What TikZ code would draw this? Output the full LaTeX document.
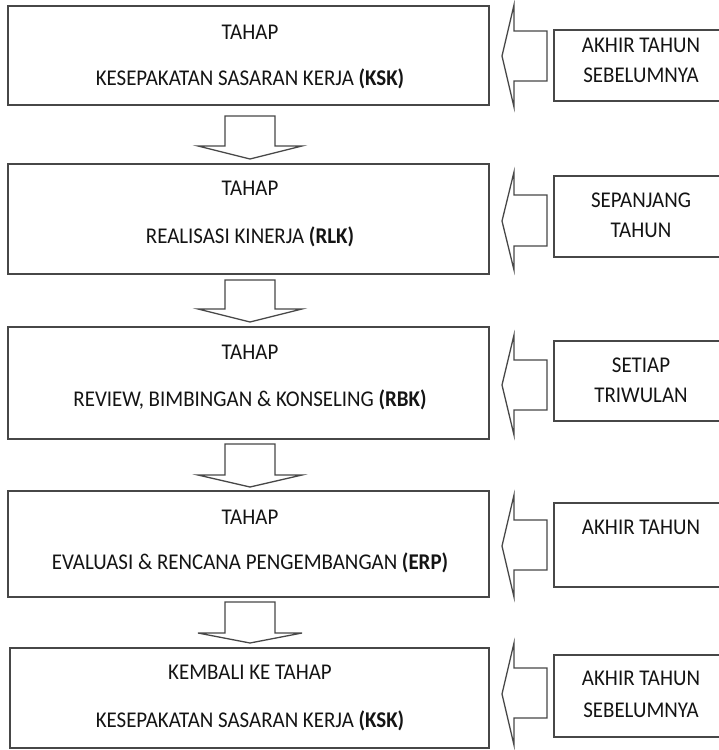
\documentclass[tikz,border=0pt]{standalone}
\usepackage{fontspec}
\setmainfont[FakeStretch=0.93]{Carlito}
\begin{document}
\begin{tikzpicture}[x=1pt,y=-1pt,
  box/.style={draw=black!72, line width=1.3pt},
  arrowshape/.style={draw=black!72, line width=1.3pt, fill=white},
  txt/.style={font=\fontsize{22.5}{26}\selectfont, text=black!92, inner sep=0pt, anchor=base}]
\useasboundingbox (0,0) rectangle (719,750);
\begin{scope}
\clip (0,0) rectangle (719,750);
% main boxes
\draw[box] (8,6) rectangle (489,105);
\draw[box] (8,164) rectangle (489,274);
\draw[box] (8,327) rectangle (489,439);
\draw[box] (8,491) rectangle (489,597);
\draw[box] (10,648) rectangle (489,748);
% right boxes
\draw[box] (554,30) rectangle (730,101);
\draw[box] (554,176) rectangle (730,257);
\draw[box] (554,341) rectangle (730,421);
\draw[box] (554,503) rectangle (730,587);
\draw[box] (554,655) rectangle (730,737);
% left arrows
\foreach \ht/\hb/\st/\sb in {5/107/31/81, 172/270/195/246, 335/435/360/410, 495/597/520/570, 643/745/668/718}{
  \draw[arrowshape] (547,\st) -- (514,\st) -- (514,\ht) -- (502,{(\ht+\hb)/2}) -- (514,\hb) -- (514,\sb) -- (547,\sb) -- cycle;
}
% down arrows
\foreach \a/\b/\c in {116/146/159, 280/309/322, 444/475/487, 602/633/643}{
  \draw[arrowshape] (225,\a) -- (275,\a) -- (275,\b) -- (302,\b) -- (250,\c) -- (198,\b) -- (225,\b) -- cycle;
}
\end{scope}
% texts main (baseline = visual centre + 7)
\node[txt] (t1a) at (250,39) {TAHAP};
\node[txt] (t1b) at (250,85) {KESEPAKATAN SASARAN KERJA \textbf{(KSK)}};
\node[txt] (t2a) at (250,195) {TAHAP};
\node[txt] (t2b) at (250,243) {REALISASI KINERJA \textbf{(RLK)}};
\node[txt] (t3a) at (250,359) {TAHAP};
\node[txt] (t3b) at (250,406) {REVIEW, BIMBINGAN \& KONSELING \textbf{(RBK)}};
\node[txt] (t4a) at (250,524) {TAHAP};
\node[txt] (t4b) at (250,569) {EVALUASI \& RENCANA PENGEMBANGAN \textbf{(ERP)}};
\node[txt] (t5a) at (250,679) {KEMBALI KE TAHAP};
\node[txt] (t5b) at (250,727) {KESEPAKATAN SASARAN KERJA \textbf{(KSK)}};
% right texts
\node[txt] (r1a) at (641,52) {AKHIR TAHUN};
\node[txt] (r1b) at (641,82) {SEBELUMNYA};
\node[txt] (r2a) at (641,207) {SEPANJANG};
\node[txt] (r2b) at (641,237) {TAHUN};
\node[txt] (r3a) at (641,372) {SETIAP};
\node[txt] (r3b) at (641,402) {TRIWULAN};
\node[txt] (r4a) at (641,534) {AKHIR TAHUN};
\node[txt] (r5a) at (641,685) {AKHIR TAHUN};
\node[txt] (r5b) at (641,717) {SEBELUMNYA};
\end{tikzpicture}
\end{document}
